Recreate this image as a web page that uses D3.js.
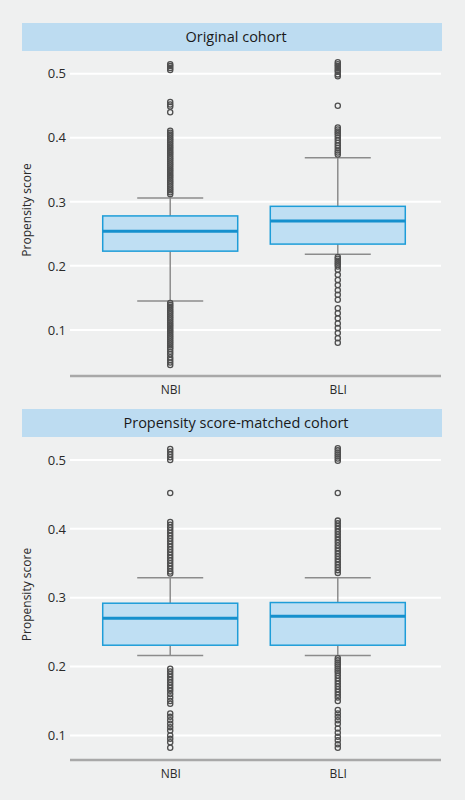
<!DOCTYPE html>
<html>
<head>
<meta charset="utf-8">
<script src="https://cdn.jsdelivr.net/npm/d3@7"></script>
<style>
  html, body { margin: 0; padding: 0; background: #eff0f0; }
  svg { display: block; }
  text { font-family: "Open Sans", "Noto Sans", sans-serif; }
</style>
</head>
<body>
<svg id="chart" width="465" height="800"></svg>
<script>
// ---------------- data ----------------
const categories = ["NBI", "BLI"];
const panelTitles = ["Original cohort", "Propensity score-matched cohort"];
const yTicks = [0.1, 0.2, 0.3, 0.4, 0.5];
const yLabel = "Propensity score";

// box stats: [lowerWhisker, q1, median, q3, upperWhisker]
const origNBIStats = [0.145, 0.223, 0.254, 0.278, 0.306];
const origBLIStats = [0.218, 0.234, 0.270, 0.293, 0.369];
const matchNBIStats = [0.216, 0.231, 0.270, 0.292, 0.329];
const matchBLIStats = [0.216, 0.231, 0.273, 0.293, 0.329];

const origNBIOutliers = [0.515, 0.512, 0.509, 0.506, 0.456, 0.452, 0.449, 0.440,
  0.411, 0.408, 0.405, 0.402, 0.399, 0.396, 0.393, 0.390, 0.387, 0.384, 0.381, 0.378,
  0.375, 0.372, 0.369, 0.366, 0.363, 0.360, 0.357, 0.354, 0.351, 0.348, 0.345, 0.342,
  0.339, 0.336, 0.333, 0.330, 0.327, 0.324, 0.321, 0.318, 0.315, 0.312,
  0.142, 0.139, 0.136, 0.133, 0.130, 0.127, 0.124, 0.121, 0.118, 0.115, 0.112, 0.109,
  0.106, 0.103, 0.100, 0.097, 0.094, 0.091, 0.088, 0.085, 0.082, 0.079, 0.076, 0.073,
  0.070, 0.066, 0.062, 0.057, 0.053, 0.049, 0.045];
const origBLIOutliers = [0.518, 0.515, 0.512, 0.509, 0.506, 0.503, 0.499, 0.496, 0.450,
  0.416, 0.413, 0.410, 0.407, 0.404, 0.400, 0.396, 0.392, 0.388, 0.384, 0.380, 0.377, 0.374,
  0.214, 0.211, 0.208, 0.205, 0.202, 0.199, 0.194, 0.186, 0.178, 0.170, 0.162, 0.155,
  0.147, 0.134, 0.126, 0.118, 0.110, 0.103, 0.095, 0.087, 0.080];
const matchNBIOutliers = [0.516, 0.512, 0.508, 0.504, 0.500, 0.452,
  0.410, 0.406, 0.402, 0.398, 0.394, 0.390, 0.386, 0.382, 0.378, 0.374, 0.370, 0.366,
  0.362, 0.358, 0.354, 0.350, 0.346, 0.342, 0.338, 0.335,
  0.197, 0.193, 0.189, 0.185, 0.181, 0.177, 0.173, 0.169, 0.165, 0.160, 0.155, 0.150,
  0.146, 0.132, 0.127, 0.122, 0.117, 0.112, 0.107, 0.100, 0.095, 0.090, 0.082];
const matchBLIOutliers = [0.517, 0.514, 0.511, 0.508, 0.505, 0.502, 0.499, 0.452,
  0.412, 0.408, 0.404, 0.400, 0.396, 0.392, 0.388, 0.384, 0.380, 0.376, 0.372, 0.368,
  0.364, 0.360, 0.356, 0.352, 0.348, 0.344, 0.340, 0.336,
  0.212, 0.209, 0.206, 0.203, 0.200, 0.197, 0.194, 0.191, 0.187, 0.183, 0.179, 0.175,
  0.171, 0.167, 0.163, 0.159, 0.155, 0.150, 0.137, 0.132, 0.127, 0.122, 0.117, 0.110,
  0.104, 0.098, 0.093, 0.087, 0.082];

const panelStats = [[origNBIStats, origBLIStats], [matchNBIStats, matchBLIStats]];
const panelOutliers = [[origNBIOutliers, origBLIOutliers], [matchNBIOutliers, matchBLIOutliers]];
const panelDomains = [[0.028, 0.534], [0.0643, 0.5334]];

// ---------------- layout ----------------
const panels = [
  { headerTop: 23, headerBottom: 51, plotTop: 52, plotBottom: 376 },
  { headerTop: 409, headerBottom: 437, plotTop: 437, plotBottom: 760 }
];
const headerLeft = 22, headerRight = 442;
const plotLeft = 70, plotRight = 441;
const boxWidth = 135, capWidth = 66;

const colors = {
  header: "#bddcf1",
  boxFill: "#bfdff3",
  boxStroke: "#1e9dd8",
  median: "#1590cd",
  whisker: "#8c8c8c",
  outlier: "#4f4f4f",
  grid: "#ffffff",
  axis: "#a8a8a8",
  text: "#2a2a2a"
};

const svg = d3.select("#chart");

const x = d3.scalePoint().domain(categories).range([68, 440]).padding(0.61);

panels.forEach((p, pi) => {
  const g = svg.append("g");
  const y = d3.scaleLinear().domain(panelDomains[pi]).range([p.plotBottom, p.plotTop]);

  // header strip
  g.append("rect")
    .attr("x", headerLeft).attr("y", p.headerTop)
    .attr("width", headerRight - headerLeft).attr("height", p.headerBottom - p.headerTop)
    .attr("fill", colors.header);
  g.append("text")
    .attr("x", (headerLeft + headerRight) / 2 + 4)
    .attr("y", (p.headerTop + p.headerBottom) / 2)
    .attr("dy", "0.35em")
    .attr("text-anchor", "middle")
    .attr("font-size", 14.5)
    .attr("fill", "#1a1a1a")
    .text(panelTitles[pi]);

  // gridlines
  g.selectAll(".grid").data(yTicks).enter().append("line")
    .attr("x1", plotLeft).attr("x2", plotRight)
    .attr("y1", d => y(d)).attr("y2", d => y(d))
    .attr("stroke", colors.grid).attr("stroke-width", 2);

  // y axis ticks labels
  const yAxis = d3.axisLeft(y).tickValues(yTicks).tickSize(0).tickPadding(4)
    .tickFormat(d3.format(".1f"));
  const ya = g.append("g").attr("transform", `translate(${plotLeft},0)`).call(yAxis);
  ya.select(".domain").remove();
  ya.selectAll("text").attr("font-size", 13).attr("fill", colors.text)
    .attr("font-family", "'Open Sans', 'Noto Sans', sans-serif");

  // y label
  g.append("text")
    .attr("transform", `translate(31, ${(p.plotTop + p.plotBottom) / 2 - 4}) rotate(-90)`)
    .attr("text-anchor", "middle")
    .attr("font-size", 12)
    .attr("fill", colors.text)
    .text(yLabel);

  // bottom axis
  g.append("line")
    .attr("x1", plotLeft).attr("x2", plotRight)
    .attr("y1", p.plotBottom).attr("y2", p.plotBottom)
    .attr("stroke", colors.axis).attr("stroke-width", 2.5);
  const xAxis = d3.axisBottom(x).tickSize(0).tickPadding(9);
  const xa = g.append("g").attr("transform", `translate(0,${p.plotBottom})`).call(xAxis);
  xa.select(".domain").remove();
  xa.selectAll("text").attr("font-size", 12).attr("fill", colors.text)
    .attr("font-family", "'Open Sans', 'Noto Sans', sans-serif");

  // boxes
  categories.forEach((c, ci) => {
    const [lw, q1, med, q3, uw] = panelStats[pi][ci];
    const cx = x(c);
    const bg = g.append("g");
    // whiskers
    bg.append("line").attr("x1", cx).attr("x2", cx).attr("y1", y(q3)).attr("y2", y(uw))
      .attr("stroke", colors.whisker).attr("stroke-width", 1.5);
    bg.append("line").attr("x1", cx).attr("x2", cx).attr("y1", y(q1)).attr("y2", y(lw))
      .attr("stroke", colors.whisker).attr("stroke-width", 1.5);
    bg.append("line").attr("x1", cx - capWidth / 2).attr("x2", cx + capWidth / 2)
      .attr("y1", y(uw)).attr("y2", y(uw))
      .attr("stroke", colors.whisker).attr("stroke-width", 1.5);
    bg.append("line").attr("x1", cx - capWidth / 2).attr("x2", cx + capWidth / 2)
      .attr("y1", y(lw)).attr("y2", y(lw))
      .attr("stroke", colors.whisker).attr("stroke-width", 1.5);
    // outliers
    bg.selectAll(".out").data(panelOutliers[pi][ci]).enter().append("circle")
      .attr("cx", cx).attr("cy", d => y(d)).attr("r", 2.6)
      .attr("fill", "none").attr("stroke", colors.outlier).attr("stroke-width", 1.3);
    // box
    bg.append("rect")
      .attr("x", cx - boxWidth / 2).attr("y", y(q3))
      .attr("width", boxWidth).attr("height", y(q1) - y(q3))
      .attr("fill", colors.boxFill).attr("stroke", colors.boxStroke).attr("stroke-width", 1.5);
    bg.append("line")
      .attr("x1", cx - boxWidth / 2).attr("x2", cx + boxWidth / 2)
      .attr("y1", y(med)).attr("y2", y(med))
      .attr("stroke", colors.median).attr("stroke-width", 3);
  });
});
</script>
</body>
</html>
